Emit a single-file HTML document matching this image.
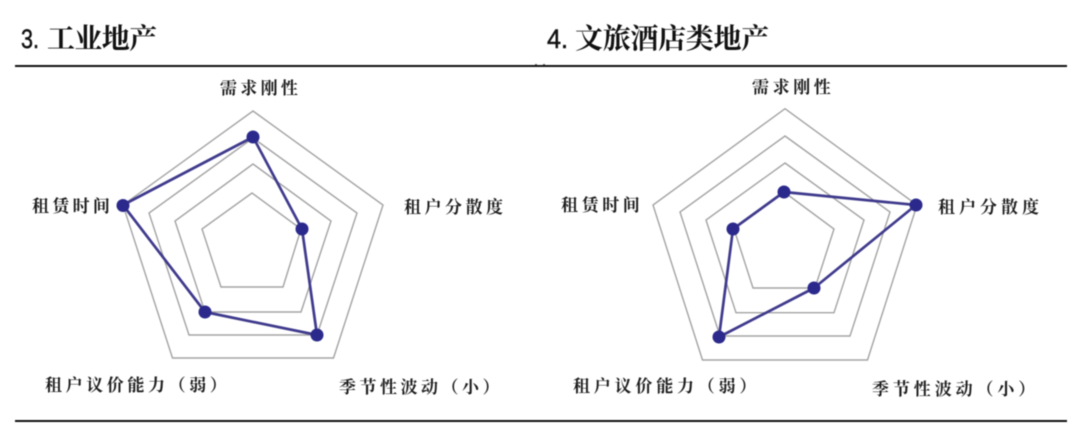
<!DOCTYPE html>
<html><head><meta charset="utf-8">
<style>
html,body{margin:0;padding:0;background:#fff;width:1080px;height:438px;overflow:hidden}
svg{display:block}
.t{font-family:"Liberation Serif","Noto Serif CJK SC",serif;font-size:28px;fill:#111;font-weight:700}
.n{font-family:"Liberation Sans",sans-serif;font-size:27px;fill:#111;stroke:#111;stroke-width:.5}
.l{font-family:"Liberation Serif","Noto Serif CJK SC",serif;font-size:17px;fill:#1c1c1c;font-weight:700}
.g{fill:none;stroke:#a3a3a3;stroke-width:1.4}
.d{fill:none;stroke:#3f3a8c;stroke-width:2.7;stroke-linejoin:round}
.c{fill:#2b2a8c}
</style></head><body>
<svg width="1080" height="438" viewBox="0 0 1080 438" xmlns="http://www.w3.org/2000/svg">
<g style="filter:blur(.45px)">
<rect x="15" y="65" width="1052" height="2" fill="#111"/>
<rect x="15" y="420" width="1052" height="2" fill="#111"/>
<rect x="535" y="64" width="2" height="1" fill="#666"/><rect x="543" y="64" width="2" height="1" fill="#666"/>

<text class="n" x="21" y="48" textLength="18" lengthAdjust="spacingAndGlyphs">3.</text>
<text class="t" x="47" y="48" style="letter-spacing:-.6px">工业地产</text>
<text class="n" x="547" y="48" textLength="21" lengthAdjust="spacingAndGlyphs">4.</text>
<text class="t" x="575" y="48" style="letter-spacing:-.3px">文旅酒店类地产</text>

<polygon class="g" points="253,111 383,205 333.5,358 172.5,358 123,205"/>
<polygon class="g" points="253,138 357,213 317,335 189,335 149,213"/>
<polygon class="g" points="253,164 331,221 301,312 205,312 175,221"/>
<polygon class="g" points="252,193 301,229 283,287 221,287 202,229"/>
<polygon class="d" points="253,137 302,229 317,335 205,312 123,205"/>
<circle class="c" cx="253" cy="137" r="6.500"/><circle class="c" cx="302" cy="229" r="6.500"/><circle class="c" cx="317" cy="335" r="6.500"/><circle class="c" cx="205" cy="312" r="6.500"/><circle class="c" cx="123" cy="205.500" r="6.500"/>

<polygon class="g" points="785,108.700 917,205 867.500,360 702.500,360 653,205"/>
<polygon class="g" points="785,136 890,212 850,336 720,336 680,212"/>
<polygon class="g" points="785,163 864,220 834,312.700 736,312.700 706,220"/>
<polygon class="g" points="784,192 834,229 815,288 753,288 734,229"/>
<polygon class="d" points="784,192 916,205 814,288 719,337 733,229"/>
<circle class="c" cx="784" cy="192" r="6.500"/><circle class="c" cx="916" cy="205" r="6.500"/><circle class="c" cx="814" cy="288" r="6.500"/><circle class="c" cx="719" cy="337" r="6.500"/><circle class="c" cx="733" cy="229" r="6.500"/>

<text class="l" x="220" y="94" style="letter-spacing:3.3px">需求刚性</text>
<text class="l" x="32" y="212" style="letter-spacing:3.3px">租赁时间</text>
<text class="l" x="404" y="213" style="letter-spacing:3.5px">租户分散度</text>
<text class="l" x="45" y="391" style="letter-spacing:3.6px">租户议价能力（弱）</text>
<text class="l" x="339" y="393" style="letter-spacing:3.5px">季节性波动（小）</text>

<text class="l" x="752" y="93" style="letter-spacing:3.6px">需求刚性</text>
<text class="l" x="561" y="211" style="letter-spacing:3.6px">租赁时间</text>
<text class="l" x="938" y="213" style="letter-spacing:4px">租户分散度</text>
<text class="l" x="573" y="392" style="letter-spacing:3.8px">租户议价能力（弱）</text>
<text class="l" x="872" y="395" style="letter-spacing:3.9px">季节性波动（小）</text>
</g>
</svg>
</body></html>
